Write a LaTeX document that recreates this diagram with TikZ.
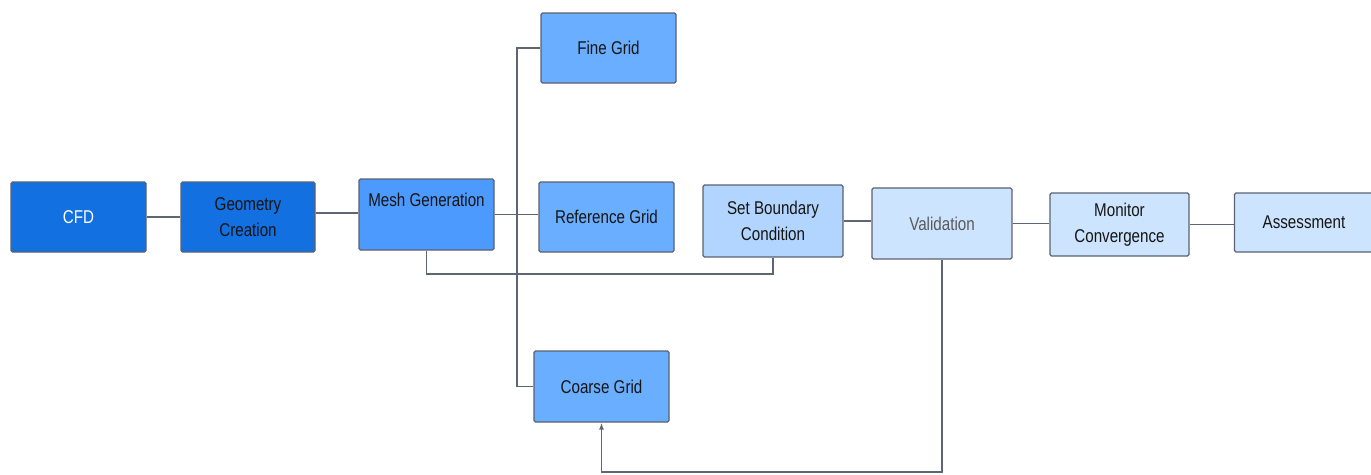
\documentclass[tikz,border=0pt]{standalone}
\usepackage{fontspec}
\setmainfont[FakeStretch=0.82]{Liberation Sans}
\usetikzlibrary{arrows.meta}
\definecolor{darkblue}{HTML}{1270E0}
\definecolor{meshblue}{HTML}{4D9AFF}
\definecolor{gridblue}{HTML}{6AAEFF}
\definecolor{paleblue}{HTML}{B2D5FF}
\definecolor{lightblue}{HTML}{CDE4FF}
\definecolor{bordergray}{HTML}{5B6170}
\definecolor{linegray}{HTML}{5E6573}
\definecolor{txt}{HTML}{151515}
\begin{document}
\begin{tikzpicture}[x=1pt,y=-1pt,
  box/.style={draw=bordergray, line width=1.2pt, rounded corners=1.5pt,
    font=\fontsize{18.5}{26}\selectfont, align=center, inner sep=0pt, text=txt},
  conn/.style={draw=linegray, line width=1.8pt}]
\useasboundingbox (0,0) rectangle (1371,474);
\node[box, fill=darkblue, text=white, minimum width=135pt, minimum height=70pt] (cfd) at (78.5,217) {CFD};
\node[box, fill=darkblue, minimum width=134pt, minimum height=70pt] (geo) at (248,217) {Geometry\\Creation};
\node[box, fill=meshblue, minimum width=135pt, minimum height=71pt, text height=13pt, text depth=29pt] (mesh) at (426.5,214.5) {Mesh Generation};
\node[box, fill=gridblue, minimum width=135pt, minimum height=70pt] (fine) at (608.5,48) {Fine Grid};
\node[box, fill=gridblue, minimum width=135pt, minimum height=70pt] (ref) at (606.5,217) {Reference Grid};
\node[box, fill=gridblue, minimum width=135pt, minimum height=71pt] (coarse) at (601.5,386.5) {Coarse Grid};
\node[box, fill=paleblue, minimum width=140pt, minimum height=72pt] (setb) at (773,221) {Set Boundary\\Condition};
\node[box, fill=lightblue, text=black!65, minimum width=140pt, minimum height=71pt] (val) at (942,223.5) {Validation};
\node[box, fill=lightblue, minimum width=139pt, minimum height=63pt] (mon) at (1119.5,224.5) {Monitor\\Convergence};
\node[box, fill=lightblue, minimum width=139pt, minimum height=59pt] (assess) at (1304,222.5) {Assessment};
\coordinate (tr) at (517,214.5);
\draw[conn] (cfd.east) -- (geo.west);
\draw[conn] ([yshift=4pt]geo.east) -- ([yshift=4pt]geo.east -| mesh.west);
\draw[conn] (mesh.east) -- (mesh.east -| ref.west);
\draw[conn] (fine.west) -- (fine.west -| tr) -- (coarse.west -| tr) -- (coarse.west);
\draw[conn] (mesh.south) -- ++(0,23) -| (setb.south);
\draw[conn] (setb.east) -- (setb.east -| val.west);
\draw[conn] (val.east) -- (val.east -| mon.west);
\draw[conn] (mon.east) -- (mon.east -| assess.west);
\draw[conn, -{Latex[length=7pt,width=5pt]}] (val.south) -- (val.south |- 0,472) -| (coarse.south);
\end{tikzpicture}
\end{document}
